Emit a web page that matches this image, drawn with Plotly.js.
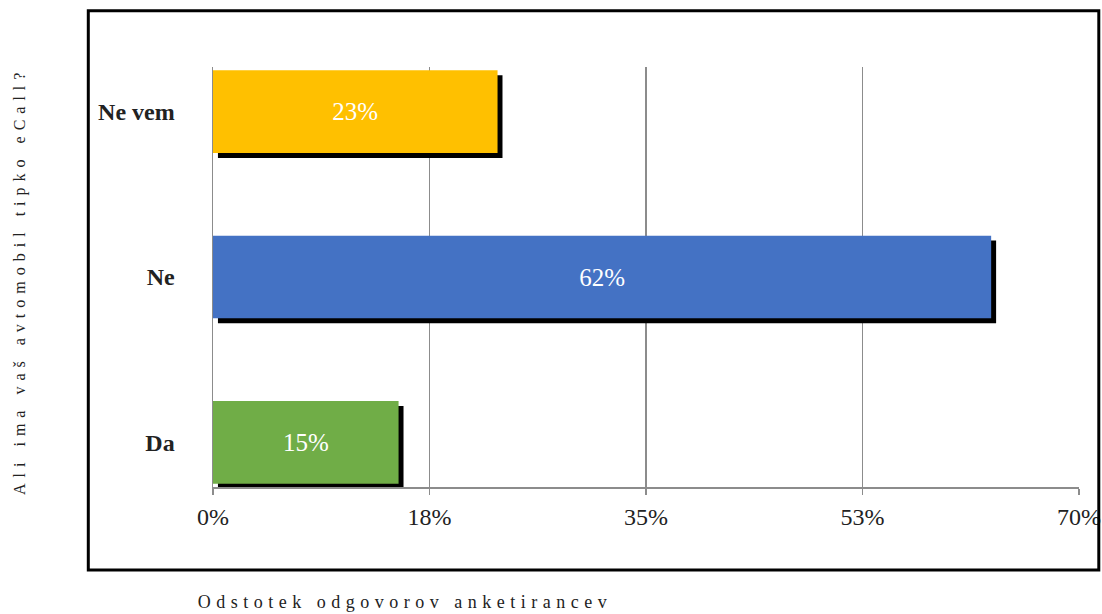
<!DOCTYPE html>
<html>
<head>
<meta charset="utf-8">
<script src="https://cdn.plot.ly/plotly-3.0.1.min.js"></script>
<style>
  html, body { margin: 0; padding: 0; background: #fff; }
  #chart { width: 1102px; height: 614px; }
  .annotation[data-index="0"] .annotation-text { letter-spacing: 6px; }
  .annotation[data-index="1"] .annotation-text { letter-spacing: 5.5px; }
</style>
</head>
<body>
<div id="chart"></div>
<script>
// ---- data ----
const categories = ['Da', 'Ne', 'Ne vem'];
const percentValues = [15.0, 62.9, 23.0];
const barLabels = ['15%', '62%', '23%'];
const barColors = ['#70AD47', '#4472C4', '#FFC000'];
const tickValues = [0, 17.5, 35, 52.5, 70];
const tickLabels = ['0%', '18%', '35%', '53%', '70%'];
const yTitle = 'Ali ima vaš avtomobil tipko eCall?';
const xTitle = 'Odstotek odgovorov anketirancev';

const serif = 'Liberation Serif';

const shadow = {
  type: 'bar', orientation: 'h',
  y: categories, x: percentValues,
  base: 0.4, width: 0.5, offset: -0.28,
  marker: { color: '#000000', line: { width: 0 } },
  hoverinfo: 'skip', showlegend: false
};

const bars = {
  type: 'bar', orientation: 'h',
  y: categories, x: percentValues,
  width: 0.5,
  marker: { color: barColors, line: { width: 0 } },
  text: barLabels,
  textposition: 'inside',
  insidetextanchor: 'middle',
  textangle: 0,
  textfont: { family: serif, size: 25, color: '#ffffff' },
  hoverinfo: 'x+y', showlegend: false
};

const layout = {
  width: 1102, height: 614,
  margin: { l: 213, r: 23, t: 67, b: 127, pad: 0 },
  paper_bgcolor: '#ffffff', plot_bgcolor: '#ffffff',
  barmode: 'overlay',
  showlegend: false,
  font: { family: serif },
  xaxis: {
    range: [0, 70],
    tickmode: 'array', tickvals: tickValues, ticktext: tickLabels,
    showgrid: true, gridcolor: '#8c8c8c', gridwidth: 1.5,
    zeroline: false,
    showline: true, linecolor: '#8c8c8c', linewidth: 1.5,
    ticks: 'outside', ticklen: 6, tickcolor: '#8c8c8c', tickwidth: 1.5,
    ticklabelstandoff: 2,
    tickfont: { family: serif, size: 24, color: '#222222' },
    fixedrange: true
  },
  yaxis: {
    type: 'category',
    categoryorder: 'array', categoryarray: categories,
    range: [-0.27, 2.27],
    showgrid: false, zeroline: false,
    showline: true, linecolor: '#8c8c8c', linewidth: 1.5,
    ticks: '', ticklabelstandoff: 32,
    tickfont: { family: serif, size: 24, color: '#222222', weight: 'bold' },
    fixedrange: true
  },
  annotations: [
    {
      text: yTitle, xref: 'paper', yref: 'paper',
      x: (20 - 213) / 866, y: (487 - 281) / 420,
      xanchor: 'center', yanchor: 'middle', textangle: -90,
      showarrow: false,
      font: { family: serif, size: 16, color: '#222222' }
    },
    {
      text: xTitle, xref: 'paper', yref: 'paper',
      x: (405 - 213) / 866, y: (487 - 602) / 420,
      xanchor: 'center', yanchor: 'middle',
      showarrow: false,
      font: { family: serif, size: 18, color: '#222222' }
    }
  ],
  shapes: [
    {
      type: 'rect', xref: 'paper', yref: 'paper', layer: 'above',
      x0: (88.3 - 213) / 866, x1: (1098.8 - 213) / 866,
      y0: (487 - 570) / 420, y1: (487 - 10.7) / 420,
      line: { color: '#000000', width: 3 }, fillcolor: 'rgba(0,0,0,0)'
    }
  ]
};

Plotly.newPlot('chart', [shadow, bars], layout, { displayModeBar: false, staticPlot: true });
</script>
</body>
</html>
